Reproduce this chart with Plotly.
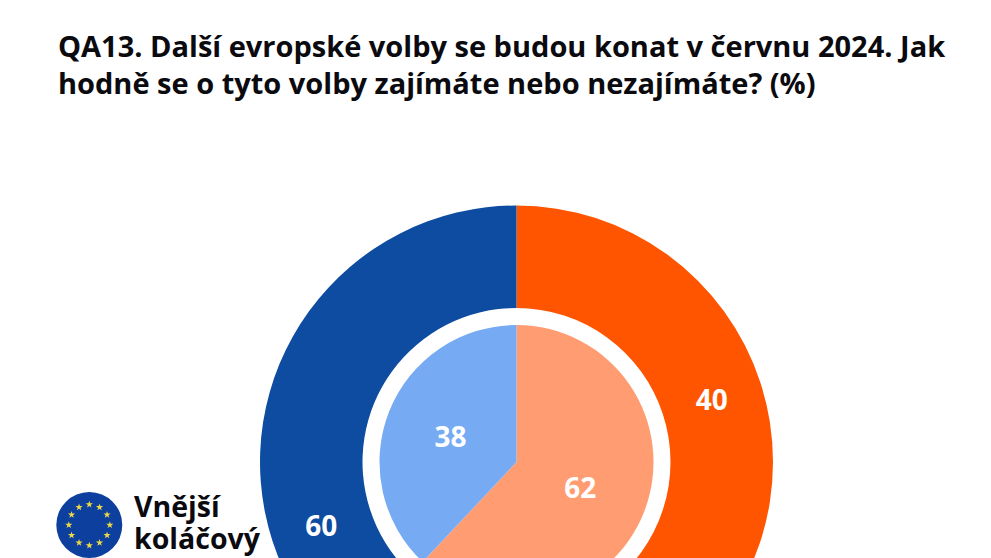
import math
import plotly.graph_objects as go

title_lines = ["QA13. Další evropské volby se budou konat v červnu 2024. Jak",
               "hodně se o tyto volby zajímáte nebo nezajímáte? (%)"]
logo_lines = ["Vnější", "koláčový"]
outer_labels = ["A", "B"]
outer_values = [40, 60]
outer_colors = ["#FF5500", "#0D4CA0"]
inner_labels = ["A", "B"]
inner_values = [62, 38]
inner_colors = ["#FF9C72", "#76ABF4"]
star_count = 12

W, H = 991, 924
FONT = "Open Sans"
CX, CY = 516.5, 462


def domain(r):
    return dict(x=[(CX - r) / W, (CX + r) / W], y=[1 - (CY + r) / H, 1 - (CY - r) / H])


fig = go.Figure()
fig.add_trace(go.Pie(labels=outer_labels, values=outer_values, hole=154 / 256.5, sort=False,
                     direction="clockwise", rotation=0, domain=domain(256.5),
                     marker=dict(colors=outer_colors, line=dict(width=0)),
                     textinfo="value", textposition="inside", insidetextorientation="horizontal",
                     textfont=dict(family=FONT, size=28, color="white", weight=700),
                     showlegend=False))
fig.add_trace(go.Pie(labels=inner_labels, values=inner_values, sort=False,
                     direction="clockwise", rotation=0, domain=domain(137),
                     marker=dict(colors=inner_colors, line=dict(width=0)),
                     textinfo="value", textposition="inside", insidetextorientation="horizontal",
                     textfont=dict(family=FONT, size=28, color="white", weight=700),
                     showlegend=False))

# EU flag logo
LX, LY, LR = 89.3, 525, 33
fig.add_shape(type="circle", xref="paper", yref="paper",
              x0=(LX - LR) / W, x1=(LX + LR) / W, y0=1 - (LY + LR) / H, y1=1 - (LY - LR) / H,
              fillcolor="#0D3F9E", line=dict(width=0), layer="below")
angles = [2 * math.pi * i / star_count for i in range(star_count)]
fig.add_trace(go.Scatter(x=[LX + 20.5 * math.sin(a) for a in angles],
                         y=[LY - 20.5 * math.cos(a) for a in angles],
                         mode="markers", showlegend=False, hoverinfo="skip",
                         marker=dict(symbol="star", size=5.5, color="#EBD94A", line=dict(width=0))))


def sized(lines, px):
    return "<br>".join(f'<span style="font-size:{px}px">{t}</span>' for t in lines)


fig.add_annotation(x=56 / W, y=1 - 64.5 / H, xref="paper", yref="paper", text=sized(title_lines, 29),
                   showarrow=False, xanchor="left", yanchor="middle", align="left",
                   font=dict(family=FONT, size=28.5, color="#0A0A0F", weight=700))
fig.add_annotation(x=132 / W, y=1 - 522 / H, xref="paper", yref="paper", text=sized(logo_lines, 28.5),
                   showarrow=False, xanchor="left", yanchor="middle", align="left",
                   font=dict(family=FONT, size=24.6, color="#0A0A0F", weight=700))

fig.update_layout(width=W, height=H, margin=dict(l=0, r=0, t=0, b=0),
                  paper_bgcolor="white", plot_bgcolor="rgba(0,0,0,0)",
                  xaxis=dict(visible=False, range=[0, W], domain=[0, 1]),
                  yaxis=dict(visible=False, range=[H, 0], domain=[0, 1]))
fig.write_html("out.html", config=dict(displayModeBar=False),
               post_script="document.body.style.margin='0';document.documentElement.style.overflow='hidden';document.body.style.overflow='hidden';")
